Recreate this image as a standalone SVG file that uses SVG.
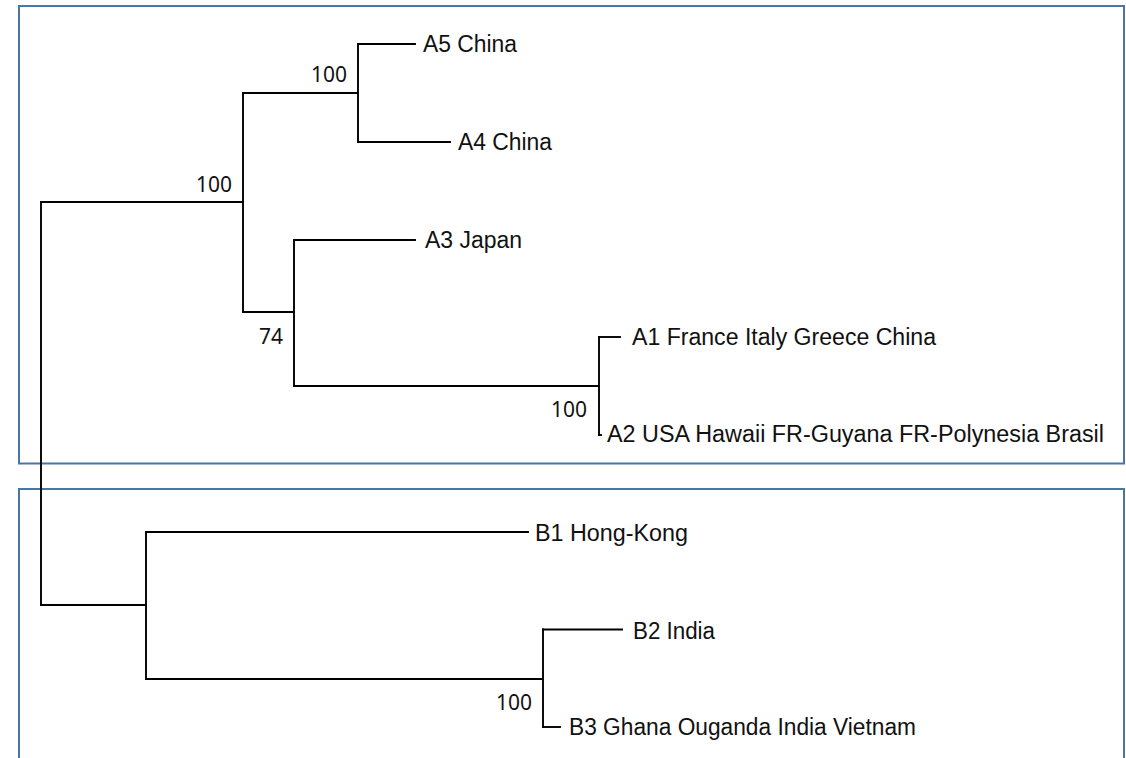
<svg xmlns="http://www.w3.org/2000/svg" width="1126" height="758" viewBox="0 0 1126 758">
  <style>
    .box { fill: none; stroke: #4a76a6; stroke-width: 2; }
    .br { fill: none; stroke: #000; stroke-width: 1.9; stroke-linecap: square; }
    .leaf { font-family: "Liberation Sans", Arial, sans-serif; font-size: 23.5px; fill: #111; }
    .bs { font-family: "Noto Sans", "Liberation Sans", sans-serif; font-size: 21px; fill: #111; text-anchor: end; }
  </style>
  <rect width="1126" height="758" fill="#fff"/>
  <g id="frames">
    <rect class="box" x="19" y="6" width="1105" height="457.5"/>
    <path class="box" d="M19,770 V489 H1124 V770"/>
  </g>
  <g id="connectors">
    <path class="br" d="M41,202 V605"/>
    <path class="br" d="M41,202 H243"/>
    <path class="br" d="M41,605 H146"/>
    <path class="br" d="M243,93 V312"/>
    <path class="br" d="M243,93 H358"/>
    <path class="br" d="M358,44 V142"/>
    <path class="br" d="M358,44 H415"/>
    <path class="br" d="M358,142 H450"/>
    <path class="br" d="M243,312 H294"/>
    <path class="br" d="M294,240 V386"/>
    <path class="br" d="M294,240 H415"/>
    <path class="br" d="M294,386 H599"/>
    <path class="br" d="M599,337 V435"/>
    <path class="br" d="M599,337 H620"/>
    <path class="br" d="M599,435 H601"/>
    <path class="br" d="M146,532 V679"/>
    <path class="br" d="M146,532 H528"/>
    <path class="br" d="M146,679 H543"/>
    <path class="br" d="M543,629.5 V727"/>
    <path class="br" d="M543,629.5 H622"/>
    <path class="br" d="M543,727 H560"/>
  </g>
  <g id="node-A5"><text class="leaf" x="423" y="52" textLength="94" lengthAdjust="spacingAndGlyphs">A5 China</text></g>
  <g id="node-A4"><text class="leaf" x="458" y="150" textLength="94" lengthAdjust="spacingAndGlyphs">A4 China</text></g>
  <g id="node-A3"><text class="leaf" x="425" y="248" textLength="97" lengthAdjust="spacingAndGlyphs">A3 Japan</text></g>
  <g id="node-A1"><text class="leaf" x="632" y="344.5" textLength="304" lengthAdjust="spacingAndGlyphs">A1 France Italy Greece China</text></g>
  <g id="node-A2"><text class="leaf" x="607" y="442" textLength="497" lengthAdjust="spacingAndGlyphs">A2 USA Hawaii FR-Guyana FR-Polynesia Brasil</text></g>
  <g id="node-B1"><text class="leaf" x="535" y="541" textLength="153" lengthAdjust="spacingAndGlyphs">B1 Hong-Kong</text></g>
  <g id="node-B2"><text class="leaf" x="633" y="639" textLength="82" lengthAdjust="spacingAndGlyphs">B2 India</text></g>
  <g id="node-B3"><text class="leaf" x="569" y="735" textLength="347" lengthAdjust="spacingAndGlyphs">B3 Ghana Ouganda India Vietnam</text></g>
  <g id="support-A45"><text class="bs" x="347" y="82">100</text></g>
  <g id="support-A"><text class="bs" x="232" y="192">100</text></g>
  <g id="support-A123"><text class="bs" x="283" y="344">74</text></g>
  <g id="support-A12"><text class="bs" x="587" y="417">100</text></g>
  <g id="support-B23"><text class="bs" x="532" y="710">100</text></g>
</svg>
